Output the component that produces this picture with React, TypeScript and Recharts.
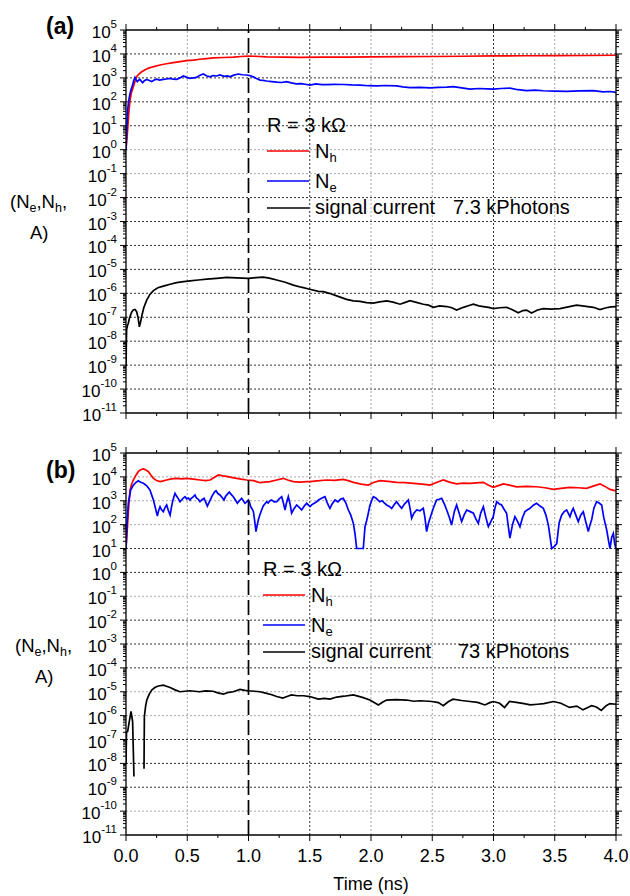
// Two stacked log-scale panels: Nh, Ne and signal current vs time, R = 3 kΩ.
import { LineChart, Line, XAxis, YAxis, ReferenceLine } from 'recharts';

type Pt = [number, number | null];

// ── tick values ──────────────────────────────────────────────
const yExponents = [5, 4, 3, 2, 1, 0, -1, -2, -3, -4, -5, -6, -7, -8, -9, -10, -11];
const yMinorMultipliers = [2, 3, 4, 5, 6, 7, 8, 9];
const xMajor = [0, 0.5, 1.0, 1.5, 2.0, 2.5, 3.0, 3.5, 4.0];
const xMinor = [0.25, 0.75, 1.25, 1.75, 2.25, 2.75, 3.25, 3.75];

// ── panel (a) : 7.3 kPhotons ─────────────────────────────────
const nhA: Pt[] = [
  [0, 1], [0.011, 4.8], [0.022, 30], [0.033, 120], [0.045, 250], [0.06, 430], [0.075, 750],
  [0.087, 1120], [0.105, 1450], [0.128, 1800], [0.15, 2100], [0.18, 2500], [0.22, 2900],
  [0.278, 3460], [0.33, 3900], [0.387, 4350], [0.44, 4800], [0.495, 5240], [0.55, 5500],
  [0.604, 6000], [0.66, 6400], [0.713, 6800], [0.8, 7100], [0.876, 7400], [0.94, 7800],
  [1.0, 8100], [1.05, 8000], [1.148, 7600], [1.3, 7400], [1.42, 7200], [1.6, 7300],
  [1.8, 7400], [2.0, 7600], [2.25, 7700], [2.5, 7800], [2.75, 8000], [3.0, 8300],
  [3.25, 8400], [3.5, 8500], [3.75, 8600], [4.0, 8800],
];

const neA: Pt[] = [
  [0, 1], [0.005, 5], [0.0136, 46], [0.022, 110], [0.033, 225], [0.044, 360], [0.054, 500],
  [0.063, 780], [0.073, 1050], [0.082, 820], [0.092, 700], [0.103, 800], [0.114, 860],
  [0.125, 720], [0.136, 630], [0.15, 760], [0.169, 860], [0.19, 780], [0.21, 700], [0.23, 820],
  [0.25, 880], [0.275, 800], [0.305, 860], [0.33, 900], [0.36, 950], [0.385, 880], [0.414, 860],
  [0.44, 1000], [0.468, 1200], [0.495, 1050], [0.522, 950], [0.55, 1000], [0.576, 1050],
  [0.6, 1250], [0.631, 1450], [0.66, 1200], [0.686, 1100], [0.71, 1250], [0.74, 1200],
  [0.767, 1320], [0.8, 1150], [0.83, 1200], [0.849, 1100], [0.88, 1300], [0.917, 1450],
  [0.95, 1350], [0.985, 1320], [1.01, 1250], [1.04, 1100], [1.065, 950], [1.094, 810],
  [1.12, 780], [1.148, 740], [1.19, 700], [1.23, 660], [1.27, 640], [1.31, 700], [1.35, 620],
  [1.39, 560], [1.43, 580], [1.475, 530], [1.5, 500], [1.55, 560], [1.6, 520], [1.638, 520],
  [1.7, 540], [1.774, 530], [1.84, 510], [1.91, 500], [1.98, 470], [2.046, 460], [2.12, 480],
  [2.209, 460], [2.26, 420], [2.318, 390], [2.4, 400], [2.481, 380], [2.55, 400], [2.62, 410],
  [2.672, 430], [2.74, 380], [2.808, 340], [2.88, 360], [2.95, 350], [2.998, 340], [3.06, 360],
  [3.134, 370], [3.2, 320], [3.27, 295], [3.34, 310], [3.407, 290], [3.5, 280], [3.597, 275],
  [3.7, 285], [3.815, 295], [3.896, 258], [3.95, 270], [4.0, 250],
];

const sigA: Pt[] = [
  [0, 8.7e-10], [0.003, 1e-8], [0.005, 3e-8], [0.012, 4.5e-8], [0.019, 5.6e-8], [0.028, 9e-8],
  [0.038, 1.26e-7], [0.048, 1.7e-7], [0.06, 2e-7], [0.073, 2.1e-7], [0.087, 1.7e-7],
  [0.098, 1e-7], [0.109, 4e-8], [0.118, 6e-8], [0.128, 1.07e-7], [0.145, 2.5e-7],
  [0.169, 5.2e-7], [0.195, 9e-7], [0.224, 1.3e-6], [0.26, 1.7e-6], [0.305, 2e-6],
  [0.36, 2.4e-6], [0.414, 2.8e-6], [0.47, 3.1e-6], [0.522, 3.3e-6], [0.59, 3.6e-6],
  [0.66, 3.9e-6], [0.74, 4.2e-6], [0.822, 4.6e-6], [0.9, 4.4e-6], [1.0, 4.2e-6],
  [1.06, 4.5e-6], [1.12, 4.7e-6], [1.17, 4.3e-6], [1.23, 3.6e-6], [1.3, 2.9e-6],
  [1.366, 2.2e-6], [1.43, 1.8e-6], [1.5, 1.48e-6], [1.57, 1.2e-6], [1.61, 1.17e-6],
  [1.66, 1e-6], [1.72, 7.8e-7], [1.8, 5.6e-7], [1.856, 4.8e-7], [1.91, 4.6e-7],
  [1.964, 4.1e-7], [2.019, 3.9e-7], [2.07, 4.4e-7], [2.128, 4.8e-7], [2.18, 4.3e-7],
  [2.237, 3.5e-7], [2.28, 4.2e-7], [2.318, 4.9e-7], [2.37, 4.2e-7], [2.427, 3.5e-7],
  [2.47, 3.2e-7], [2.509, 2.6e-7], [2.56, 3e-7], [2.618, 2.8e-7], [2.66, 2.5e-7],
  [2.699, 2e-7], [2.754, 2.6e-7], [2.8, 3.1e-7], [2.836, 3.5e-7], [2.88, 3e-7],
  [2.917, 2.8e-7], [2.96, 2.6e-7], [3.0, 2.3e-7], [3.05, 2.5e-7], [3.107, 2.6e-7],
  [3.15, 2.1e-7], [3.202, 1.55e-7], [3.24, 1.9e-7], [3.27, 2e-7], [3.31, 1.5e-7],
  [3.36, 2e-7], [3.407, 2.3e-7], [3.47, 2.2e-7], [3.543, 2.3e-7], [3.61, 2.7e-7],
  [3.679, 3.2e-7], [3.74, 2.9e-7], [3.815, 2.6e-7], [3.869, 2.1e-7], [3.92, 2.5e-7],
  [3.96, 2.7e-7], [4.0, 2.8e-7],
];

// ── panel (b) : 73 kPhotons ──────────────────────────────────
const nhB: Pt[] = [
  [0, 10], [0.01, 60], [0.02, 400], [0.033, 2800], [0.045, 4800], [0.06, 7400], [0.08, 11500],
  [0.1, 16500], [0.12, 20000], [0.142, 21500], [0.163, 19500], [0.183, 16500], [0.2, 12500],
  [0.224, 8700], [0.25, 7000], [0.278, 6300], [0.305, 6800], [0.332, 7400], [0.37, 8200],
  [0.414, 8700], [0.455, 8300], [0.495, 8700], [0.55, 8000], [0.604, 7400], [0.65, 7000],
  [0.686, 7400], [0.72, 9500], [0.754, 12000], [0.79, 11000], [0.822, 10500], [0.86, 9500],
  [0.904, 8700], [0.94, 8000], [0.985, 7400], [1.04, 7000], [1.094, 5700], [1.13, 6000],
  [1.175, 6300], [1.23, 7400], [1.284, 8700], [1.32, 7400], [1.366, 6300], [1.42, 6000],
  [1.475, 6300], [1.5, 6300], [1.56, 6800], [1.638, 7400], [1.7, 7200], [1.774, 7900],
  [1.82, 6800], [1.856, 5900], [1.92, 5000], [1.978, 4550], [2.02, 5800], [2.073, 7000],
  [2.14, 6500], [2.209, 5900], [2.28, 5700], [2.345, 5370], [2.42, 5000], [2.481, 4550],
  [2.54, 6000], [2.59, 7400], [2.64, 6000], [2.699, 5100], [2.75, 5500], [2.808, 5370],
  [2.86, 5600], [2.917, 5900], [2.96, 4500], [2.998, 3640], [3.04, 4300], [3.08, 5100],
  [3.13, 4500], [3.189, 3850], [3.27, 4000], [3.352, 3850], [3.42, 3500], [3.489, 3000],
  [3.55, 3300], [3.624, 3640], [3.69, 3500], [3.76, 3300], [3.82, 4200], [3.869, 5100],
  [3.91, 4000], [3.951, 3000], [4.0, 2560],
];

const neB: Pt[] = [
  [0, 10], [0.01, 150], [0.019, 800], [0.038, 2800], [0.06, 4500], [0.08, 5800], [0.1, 6900],
  [0.12, 6000], [0.142, 5400], [0.17, 4200], [0.196, 2800], [0.212, 1600], [0.224, 1075],
  [0.24, 500], [0.256, 230], [0.266, 380], [0.278, 565], [0.29, 420], [0.305, 350],
  [0.318, 520], [0.332, 665], [0.345, 400], [0.36, 250], [0.37, 500], [0.38, 900], [0.39, 1400],
  [0.4, 2050], [0.415, 1500], [0.428, 1200], [0.441, 910], [0.455, 1100], [0.468, 1300],
  [0.482, 1480], [0.495, 1200], [0.51, 1300], [0.522, 1075], [0.535, 1300], [0.55, 1500],
  [0.563, 1750], [0.575, 1300], [0.59, 1150], [0.604, 910], [0.62, 1100], [0.637, 1260],
  [0.65, 900], [0.664, 600], [0.68, 900], [0.69, 1150], [0.7, 1480], [0.712, 1900],
  [0.722, 2300], [0.735, 2630], [0.75, 2000], [0.767, 1750], [0.783, 1400], [0.8, 1075],
  [0.812, 1500], [0.828, 1900], [0.843, 2300], [0.86, 1800], [0.876, 1480], [0.892, 1100],
  [0.909, 780], [0.925, 1000], [0.944, 1260], [0.958, 1000], [0.971, 780], [0.985, 900],
  [0.999, 1075], [1.01, 800], [1.018, 565], [1.03, 450], [1.04, 350], [1.05, 150],
  [1.061, 51], [1.07, 90], [1.08, 156], [1.093, 260], [1.107, 410], [1.12, 600],
  [1.135, 750], [1.148, 910], [1.16, 800], [1.175, 1000], [1.189, 1075], [1.21, 900],
  [1.23, 910], [1.25, 1200], [1.271, 1480], [1.285, 800], [1.298, 410], [1.31, 800],
  [1.325, 1480], [1.34, 700], [1.352, 300], [1.37, 450], [1.393, 665], [1.41, 550],
  [1.434, 410], [1.455, 600], [1.475, 780], [1.49, 650],
  [1.502, 565], [1.52, 700], [1.54, 800], [1.556, 910], [1.575, 1100], [1.6, 1300],
  [1.624, 1480], [1.64, 900], [1.655, 600], [1.665, 480], [1.68, 700], [1.706, 1075],
  [1.73, 900], [1.75, 1150], [1.774, 1260], [1.795, 800], [1.815, 410], [1.835, 250],
  [1.856, 113], [1.87, 40], [1.883, 10], [1.937, 10], [1.951, 82], [1.965, 150], [1.978, 300],
  [1.99, 600], [2.005, 1000], [2.019, 1480], [2.04, 1300], [2.055, 1100], [2.073, 910],
  [2.09, 1000], [2.11, 800], [2.128, 665], [2.15, 580], [2.169, 480], [2.19, 700],
  [2.209, 910], [2.23, 650], [2.25, 480], [2.27, 700], [2.29, 900], [2.305, 1075],
  [2.318, 500], [2.332, 183], [2.35, 300], [2.373, 410], [2.4, 380], [2.427, 480],
  [2.44, 200], [2.454, 51], [2.47, 120], [2.495, 300], [2.515, 600], [2.536, 1075],
  [2.555, 1150], [2.577, 1260], [2.6, 700], [2.618, 410], [2.64, 200], [2.658, 96],
  [2.68, 350], [2.699, 665], [2.72, 300], [2.74, 133], [2.76, 250], [2.781, 410],
  [2.81, 350], [2.836, 300], [2.855, 180], [2.876, 113], [2.895, 300], [2.917, 565],
  [2.938, 200], [2.958, 82], [2.98, 140], [2.998, 215], [3.012, 500], [3.026, 910],
  [3.045, 750], [3.066, 665], [3.085, 450], [3.107, 300], [3.12, 90], [3.134, 27],
  [3.155, 100], [3.175, 215], [3.195, 140], [3.216, 82], [3.237, 200], [3.257, 350],
  [3.278, 420], [3.298, 480], [3.325, 650], [3.352, 780], [3.38, 600], [3.407, 480],
  [3.428, 250], [3.448, 96], [3.462, 30], [3.475, 10], [3.495, 12], [3.516, 16],
  [3.536, 120], [3.556, 250], [3.577, 350], [3.597, 410], [3.61, 300], [3.624, 215],
  [3.638, 350], [3.651, 480], [3.672, 250], [3.692, 133], [3.712, 250], [3.733, 350],
  [3.755, 120], [3.774, 51], [3.788, 100], [3.801, 156], [3.82, 500], [3.842, 910],
  [3.862, 800], [3.883, 665], [3.9, 200], [3.924, 60], [3.94, 20], [3.951, 10],
  [3.965, 30], [3.978, 43], [3.99, 15], [4.0, 10],
];

const sigB: Pt[] = [
  [0, 1e-8], [0.004, 2e-7], [0.0136, 2.2e-7], [0.025, 5e-7], [0.041, 1.5e-6], [0.048, 9e-7],
  [0.054, 5.6e-7], [0.06, 3e-8], [0.065, 2.8e-9], [0.1, null],
  [0.147, 6e-9], [0.15, 9e-7], [0.16, 2.5e-6], [0.17, 4.5e-6], [0.19, 8e-6], [0.21, 1.17e-5],
  [0.235, 1.5e-5], [0.264, 1.74e-5], [0.305, 1.9e-5], [0.33, 1.7e-5], [0.36, 1.5e-5],
  [0.4, 1.2e-5], [0.44, 1e-5], [0.48, 1.05e-5], [0.52, 1.1e-5], [0.56, 1.05e-5], [0.6, 1e-5],
  [0.65, 1.08e-5], [0.71, 1.05e-5], [0.75, 9e-6], [0.795, 8e-6], [0.84, 9.5e-6], [0.876, 1e-5],
  [0.93, 1.25e-5], [0.97, 1.15e-5], [1.0, 1.1e-5], [1.05, 1.05e-5], [1.094, 1e-5],
  [1.148, 8.5e-6], [1.19, 7.5e-6], [1.23, 6.3e-6], [1.28, 5.4e-6], [1.32, 6.5e-6],
  [1.35, 7.4e-6], [1.4, 6.8e-6], [1.45, 6.8e-6], [1.5, 6.3e-6], [1.57, 4.9e-6],
  [1.62, 5.3e-6], [1.665, 4.9e-6], [1.72, 6e-6], [1.78, 6.5e-6], [1.856, 7.4e-6],
  [1.93, 5.8e-6], [1.991, 4.5e-6], [2.06, 2.8e-6], [2.1, 3.8e-6], [2.128, 4.5e-6],
  [2.2, 4.7e-6], [2.29, 4.5e-6], [2.35, 4e-6], [2.4, 4.2e-6], [2.5, 3.9e-6], [2.55, 3.5e-6],
  [2.59, 2.6e-6], [2.63, 3.8e-6], [2.67, 4.9e-6], [2.74, 4.3e-6], [2.808, 3.9e-6],
  [2.87, 3.6e-6], [2.93, 2.8e-6], [2.97, 3.5e-6], [3.0, 3.9e-6], [3.05, 3.3e-6],
  [3.09, 2.2e-6], [3.13, 3.9e-6], [3.2, 3.5e-6], [3.25, 3.2e-6], [3.3, 2.8e-6],
  [3.36, 3e-6], [3.41, 3.2e-6], [3.49, 3.9e-6], [3.55, 3.3e-6], [3.62, 2.2e-6],
  [3.68, 2.5e-6], [3.73, 1.74e-6], [3.77, 2.2e-6], [3.8, 2.6e-6], [3.84, 2.3e-6],
  [3.88, 1.65e-6], [3.92, 2.6e-6], [3.95, 3.2e-6], [4.0, 3e-6],
];

// grid lines drawn darker (the rest are light grey)
const darkYA = [4, 3, 2, 1, -2, -3, -4, -5, -6, -7, -8, -9, -10];
const darkYB = [1, 0, -2, -3, -4, -7, -8, -9];
const darkX = [1.5, 3.0];

const FONT = '"Liberation Sans", Arial, Helvetica, sans-serif';
const W = 630;

const dec = (e: number) => Number(`1e${e}`);
const yTicks = [
  ...yExponents.map(dec),
  ...yExponents.slice(1).flatMap((e) => yMinorMultipliers.map((m) => Number(`${m}e${e}`))),
].sort((a, b) => a - b);
const xTicks = [...xMajor, ...xMinor].sort((a, b) => a - b);

const isDecade = (v: number) => Math.abs(Math.log10(v) - Math.round(Math.log10(v))) < 1e-6;
const isHalf = (v: number) => xMajor.some((m) => Math.abs(m - v) < 1e-9);
const rows = (pts: Pt[]) => pts.map(([t, v]) => ({ t, v }));

function LeftTick({ x, y, payload }: any) {
  const v = payload.value as number;
  const major = isDecade(v);
  const e = Math.round(Math.log10(v));
  return (
    <g>
      <line x1={x - (major ? 6 : 3)} x2={x} y1={y} y2={y} stroke="#000" strokeWidth={1} />
      {major && (
        <text x={x - 9} y={y + 8} textAnchor="end" fontFamily={FONT} fontSize={17} fill="#000">
          10<tspan dy={-10} fontSize={11.5}>{e}</tspan>
        </text>
      )}
    </g>
  );
}

function RightTick({ x, y, payload }: any) {
  const major = isDecade(payload.value);
  return <line x1={x} x2={x + (major ? 6 : 3)} y1={y} y2={y} stroke="#000" strokeWidth={1} />;
}

function TopTick({ x, y, payload }: any) {
  const major = isHalf(payload.value);
  return <line x1={x} x2={x} y1={y - (major ? 6 : 3)} y2={y} stroke="#000" strokeWidth={1} />;
}

function makeBottomTick(showLabels: boolean) {
  return function BottomTick({ x, y, payload }: any) {
    const v = payload.value as number;
    const major = isHalf(v);
    return (
      <g>
        <line x1={x} x2={x} y1={y} y2={y + (major ? 6 : 3)} stroke="#000" strokeWidth={1} />
        {showLabels && major && (
          <text x={x} y={y + 27} textAnchor="middle" fontFamily={FONT} fontSize={18} fill="#000">
            {v.toFixed(1)}
          </text>
        )}
      </g>
    );
  };
}

interface PanelProps {
  nh: Pt[];
  ne: Pt[];
  sig: Pt[];
  darkY: number[];
  top: number;
  height: number;
  margin: { top: number; right: number; bottom: number; left: number };
  xLabels: boolean;
}

function Panel({ nh, ne, sig, darkY, top, height, margin, xLabels }: PanelProps) {
  const axisLine = { stroke: '#000', strokeWidth: 1.3 };
  return (
    <div style={{ position: 'absolute', left: 0, top }}>
      <LineChart width={W} height={height} margin={margin}>
        <XAxis
          xAxisId="b" dataKey="t" type="number" domain={[0, 4]} ticks={xTicks} interval={0}
          height={1} tickSize={0} tickMargin={0} tickLine={false} axisLine={axisLine}
          tick={makeBottomTick(xLabels)} allowDataOverflow
        />
        <XAxis
          xAxisId="t" orientation="top" dataKey="t" type="number" domain={[0, 4]} ticks={xTicks}
          interval={0} height={1} tickSize={0} tickMargin={0} tickLine={false}
          axisLine={axisLine} tick={TopTick} allowDataOverflow
        />
        <YAxis
          yAxisId="l" type="number" scale="log" domain={[1e-11, 1e5]} ticks={yTicks} interval={0}
          width={1} tickSize={0} tickMargin={0} tickLine={false} axisLine={axisLine}
          tick={LeftTick} allowDataOverflow
        />
        <YAxis
          yAxisId="r" orientation="right" type="number" scale="log" domain={[1e-11, 1e5]}
          ticks={yTicks} interval={0} width={1} tickSize={0} tickMargin={0} tickLine={false}
          axisLine={axisLine} tick={RightTick} allowDataOverflow
        />
        {yExponents.slice(1, -1).map((e) => (
          <ReferenceLine
            key={`gy${e}`} xAxisId="b" yAxisId="l" y={dec(e)}
            stroke={darkY.includes(e) ? '#333' : '#a8a8a8'} strokeWidth={1} strokeDasharray="2 2"
          />
        ))}
        {xMajor.slice(1, -1).filter((v) => v !== 1.0).map((v) => (
          <ReferenceLine
            key={`gx${v}`} xAxisId="b" yAxisId="l" x={v}
            stroke={darkX.includes(v) ? '#333' : '#a8a8a8'} strokeWidth={1} strokeDasharray="2 2"
          />
        ))}
        <Line
          xAxisId="b" yAxisId="l" data={rows(nh)} dataKey="v" stroke="#ff0000" strokeWidth={1.7}
          dot={false} isAnimationActive={false} type="linear"
        />
        <Line
          xAxisId="b" yAxisId="l" data={rows(ne)} dataKey="v" stroke="#0000ff" strokeWidth={1.7}
          dot={false} isAnimationActive={false} type="linear"
        />
        <Line
          xAxisId="b" yAxisId="l" data={rows(sig)} dataKey="v" stroke="#000" strokeWidth={1.7}
          dot={false} isAnimationActive={false} type="linear" connectNulls={false}
        />
        <ReferenceLine
          xAxisId="b" yAxisId="l" x={1.0} stroke="#000" strokeWidth={1.7} strokeDasharray="15 5"
        />
      </LineChart>
    </div>
  );
}

function Sub({ main, sub, x, y, size, subSize }: { main: string; sub: string; x: number; y: number; size: number; subSize: number }) {
  return (
    <text x={x} y={y} fontFamily={FONT} fontSize={size} fill="#000">
      {main}<tspan dy={4} fontSize={subSize}>{sub}</tspan>
    </text>
  );
}

function Annotations({ dy, lx, photons, photonsX, label, yLabelX, aX }: {
  dy: number; lx: number; photons: string; photonsX: number; label: string; yLabelX: number; aX: number;
}) {
  // dy: vertical offset of the panel; positions below are for panel (a)
  return (
    <g>
      <text x={46} y={34 + dy} fontFamily={FONT} fontSize={23} fontWeight="bold" fill="#000">{label}</text>
      <text x={yLabelX} y={208 + dy} fontFamily={FONT} fontSize={18.5} fill="#000">
        (N<tspan dy={4} fontSize={12.5}>e</tspan><tspan dy={-4}>,N</tspan>
        <tspan dy={4} fontSize={12.5}>h</tspan><tspan dy={-4}>,</tspan>
      </text>
      <text x={aX} y={239 + dy} fontFamily={FONT} fontSize={18.5} fill="#000">A)</text>
      <text x={lx} y={132 + dy} fontFamily={FONT} fontSize={20} fill="#000">R = 3 kΩ</text>
      <line x1={lx} x2={lx + 42} y1={151 + dy} y2={151 + dy} stroke="#ff0000" strokeWidth={1.7} />
      <Sub main="N" sub="h" x={lx + 48} y={158 + dy} size={20} subSize={13} />
      <line x1={lx} x2={lx + 42} y1={181 + dy} y2={181 + dy} stroke="#0000ff" strokeWidth={1.7} />
      <Sub main="N" sub="e" x={lx + 48} y={188 + dy} size={20} subSize={13} />
      <line x1={lx} x2={lx + 42} y1={208 + dy} y2={208 + dy} stroke="#000" strokeWidth={1.7} />
      <text x={lx + 48} y={214 + dy} fontFamily={FONT} fontSize={20} fill="#000">signal current</text>
      <text x={photonsX} y={214 + dy} fontFamily={FONT} fontSize={20} fill="#000">{photons}</text>
    </g>
  );
}

export default function App() {
  return (
    <div style={{ position: 'absolute', left: 0, top: 0, width: W, height: 896, background: '#fff' }}>
      <Panel
        nh={nhA} ne={neA} sig={sigA} darkY={darkYA} top={0} height={440}
        margin={{ top: 29, right: 13, bottom: 26, left: 125 }} xLabels={false}
      />
      <Panel
        nh={nhB} ne={neB} sig={sigB} darkY={darkYB} top={440} height={456}
        margin={{ top: 12, right: 13, bottom: 60, left: 125 }} xLabels
      />
      <svg width={W} height={896} style={{ position: 'absolute', left: 0, top: 0, pointerEvents: 'none' }}>
        <Annotations dy={0} lx={267} photons="7.3 kPhotons" photonsX={453} label="(a)" yLabelX={10} aX={30} />
        <Annotations dy={444} lx={263} photons="73 kPhotons" photonsX={458} label="(b)" yLabelX={15} aX={35} />
        <text x={371} y={890} textAnchor="middle" fontFamily={FONT} fontSize={18} fill="#000">Time (ns)</text>
      </svg>
    </div>
  );
}
